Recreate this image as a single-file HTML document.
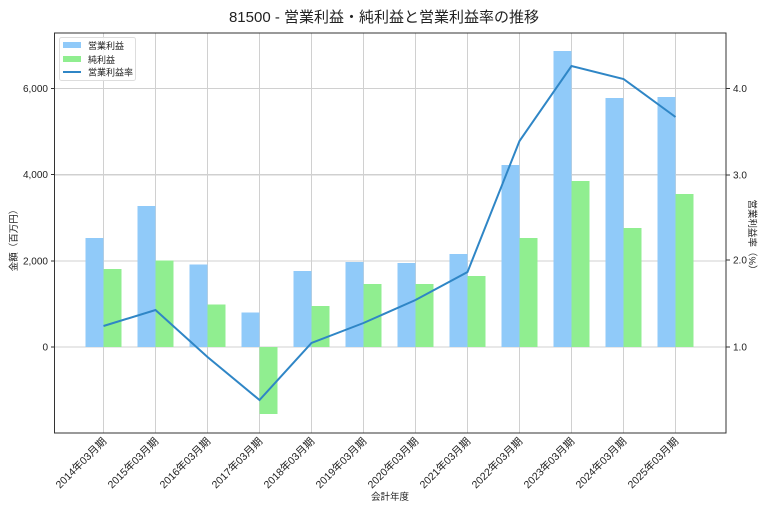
<!DOCTYPE html>
<html><head><meta charset="utf-8"><style>
html,body{margin:0;padding:0;background:#fff;}
svg{display:block;font-family:"Liberation Sans","Noto Sans CJK JP",sans-serif;}
</style></head><body>
<svg width="768" height="512" viewBox="0 0 768 512" xmlns="http://www.w3.org/2000/svg">
<rect width="768" height="512" fill="#fff"/>
<text x="384" y="22" font-size="15" text-anchor="middle" fill="#222">81500 - 営業利益・純利益と営業利益率の推移</text>
<g stroke="#d0d0d0" stroke-width="1">
<line x1="54.5" x2="726" y1="88.5" y2="88.5"/>
<line x1="54.5" x2="726" y1="174.5" y2="174.5"/>
<line x1="54.5" x2="726" y1="261" y2="261"/>
<line x1="54.5" x2="726" y1="347" y2="347"/>
<line x1="54.5" x2="726" y1="175" y2="175"/>
<line x1="103.5" x2="103.5" y1="33" y2="433"/><line x1="155.5" x2="155.5" y1="33" y2="433"/>
<line x1="207.5" x2="207.5" y1="33" y2="433"/><line x1="259.5" x2="259.5" y1="33" y2="433"/>
<line x1="311.5" x2="311.5" y1="33" y2="433"/><line x1="363.5" x2="363.5" y1="33" y2="433"/>
<line x1="415.5" x2="415.5" y1="33" y2="433"/><line x1="467.5" x2="467.5" y1="33" y2="433"/>
<line x1="519.5" x2="519.5" y1="33" y2="433"/><line x1="571.5" x2="571.5" y1="33" y2="433"/>
<line x1="623.5" x2="623.5" y1="33" y2="433"/><line x1="675.5" x2="675.5" y1="33" y2="433"/>
</g>
<g fill="#90CAF9">
<rect x="85.5" y="238" width="18" height="109"/>
<rect x="137.5" y="206" width="18" height="141"/>
<rect x="189.5" y="264.5" width="18" height="82.5"/>
<rect x="241.5" y="312.5" width="18" height="34.5"/>
<rect x="293.5" y="271" width="18" height="76"/>
<rect x="345.5" y="262" width="18" height="85"/>
<rect x="397.5" y="263" width="18" height="84"/>
<rect x="449.5" y="254" width="18" height="93"/>
<rect x="501.5" y="165" width="18" height="182"/>
<rect x="553.5" y="51" width="18" height="296"/>
<rect x="605.5" y="98" width="18" height="249"/>
<rect x="657.5" y="97" width="18" height="250"/>
</g>
<g fill="#90EE90">
<rect x="103.5" y="269" width="18" height="78"/>
<rect x="155.5" y="260.5" width="18" height="86.5"/>
<rect x="207.5" y="304.5" width="18" height="42.5"/>
<rect x="259.5" y="347" width="18" height="67"/>
<rect x="311.5" y="306" width="18" height="41"/>
<rect x="363.5" y="284" width="18" height="63"/>
<rect x="415.5" y="284" width="18" height="63"/>
<rect x="467.5" y="276" width="18" height="71"/>
<rect x="519.5" y="238" width="18" height="109"/>
<rect x="571.5" y="181" width="18" height="166"/>
<rect x="623.5" y="228" width="18" height="119"/>
<rect x="675.5" y="194" width="18" height="153"/>
</g>
<polyline fill="none" stroke="#2f86c6" stroke-width="2" points="103.5,326 155.5,310 207.5,357 259.5,400 311.5,343 363.5,323 415.5,300 467.5,272 519.5,141 571.5,66 623.5,79 675.5,117"/>
<rect x="54.5" y="33" width="671.5" height="400" fill="none" stroke="#333" stroke-width="1"/>
<g stroke="#333">
<line x1="51" x2="54.5" y1="88.5" y2="88.5"/><line x1="51" x2="54.5" y1="174.5" y2="174.5"/>
<line x1="51" x2="54.5" y1="261" y2="261"/><line x1="51" x2="54.5" y1="347" y2="347"/>
<line x1="726" x2="730" y1="88.5" y2="88.5"/><line x1="726" x2="730" y1="175" y2="175"/>
<line x1="726" x2="730" y1="260" y2="260"/><line x1="726" x2="730" y1="347" y2="347"/>
</g>
<g font-size="10" fill="#222" text-anchor="end">
<text x="48" y="92">6,000</text><text x="48" y="178">4,000</text>
<text x="48" y="264.5">2,000</text><text x="48" y="350.5">0</text>
</g>
<g font-size="10" fill="#222">
<text x="733" y="92">4.0</text><text x="733" y="178.5">3.0</text>
<text x="733" y="263.5">2.0</text><text x="733" y="350.5">1.0</text>
</g>
<g font-size="10.5" fill="#222" text-anchor="end">
<text transform="translate(107,442) rotate(-45)">2014年03月期</text>
<text transform="translate(159,442) rotate(-45)">2015年03月期</text>
<text transform="translate(211,442) rotate(-45)">2016年03月期</text>
<text transform="translate(263,442) rotate(-45)">2017年03月期</text>
<text transform="translate(315,442) rotate(-45)">2018年03月期</text>
<text transform="translate(367,442) rotate(-45)">2019年03月期</text>
<text transform="translate(419,442) rotate(-45)">2020年03月期</text>
<text transform="translate(471,442) rotate(-45)">2021年03月期</text>
<text transform="translate(523,442) rotate(-45)">2022年03月期</text>
<text transform="translate(575,442) rotate(-45)">2023年03月期</text>
<text transform="translate(627,442) rotate(-45)">2024年03月期</text>
<text transform="translate(679,442) rotate(-45)">2025年03月期</text>
</g>
<text x="390" y="500" font-size="9.5" text-anchor="middle" fill="#222">会計年度</text>
<text transform="translate(17,238) rotate(-90)" font-size="9.5" text-anchor="middle" fill="#222">金額（百万円）</text>
<text transform="translate(749,237) rotate(90)" font-size="9.5" text-anchor="middle" fill="#222">営業利益率（%）</text>
<rect x="59.5" y="37.5" width="76" height="43" fill="#fff" fill-opacity="0.85" stroke="#ddd" rx="2"/>
<rect x="63" y="42" width="18" height="6" fill="#90CAF9"/>
<rect x="63" y="56" width="18" height="6" fill="#90EE90"/>
<line x1="63" x2="81" y1="72" y2="72" stroke="#2f86c6" stroke-width="2"/>
<g font-size="9" fill="#222">
<text x="88" y="49">営業利益</text><text x="88" y="63">純利益</text><text x="88" y="75.5">営業利益率</text>
</g>
</svg>
</body></html>
